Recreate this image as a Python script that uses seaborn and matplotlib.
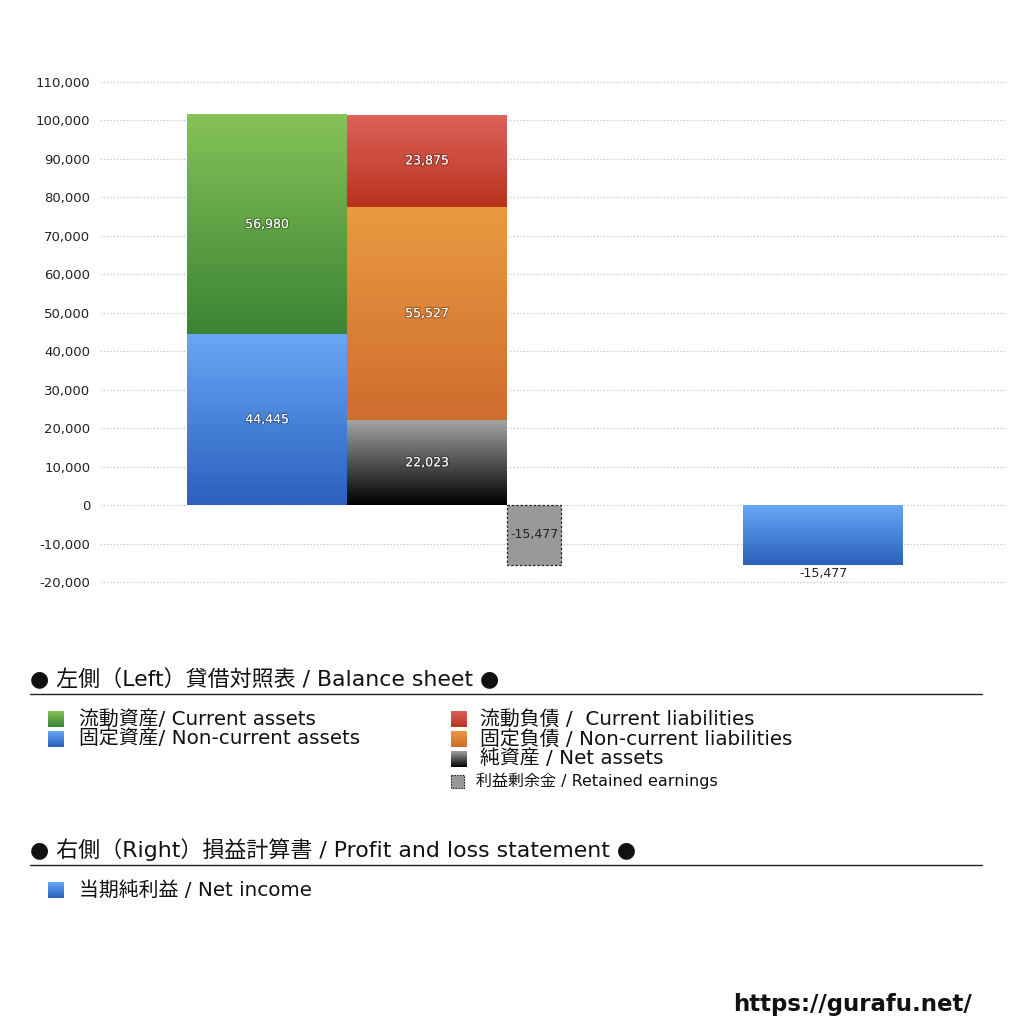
import numpy as np
import matplotlib
matplotlib.use("Agg")
import matplotlib.pyplot as plt
import matplotlib.patheffects as pe
from matplotlib.colors import LinearSegmentedColormap
from matplotlib.patches import Rectangle
import seaborn as sns

# --- Data ---
asset_labels = ["固定資産/ Non-current assets", "流動資産/ Current assets"]
asset_values = [44445, 56980]
liability_labels = ["純資産 / Net assets", "固定負債 / Non-current liabilities", "流動負債 /  Current liabilities"]
liability_values = [22023, 55527, 23875]
retained_label = "利益剰余金 / Retained earnings"
retained_value = -15477
income_label = "当期純利益 / Net income"
income_value = -15477
y_ticks = np.arange(-20000, 110001, 10000)

# gradient colours (top, bottom)
grad = {
    "green": ("#86c257", "#3b8434"),
    "blue": ("#67a7f6", "#2b60bc"),
    "red": ("#dc625a", "#b9331d"),
    "orange": ("#e99a40", "#cf6d2f"),
    "black": ("#a3a3a3", "#000000"),
}
asset_colors = ["blue", "green"]
liability_colors = ["black", "orange", "red"]

sns.set_theme(style="white")
plt.rcParams["font.family"] = ["DejaVu Sans", "Noto Sans CJK JP"]


def gradient_fill(ax, x0, x1, y0, y1, key, zorder=3, origin="upper"):
    top, bottom = grad[key]
    cmap = LinearSegmentedColormap.from_list(key, [top, bottom])
    img = np.linspace(0, 1, 256).reshape(-1, 1)
    ax.imshow(img, cmap=cmap, extent=(x0, x1, min(y0, y1), max(y0, y1)),
              origin=origin, aspect="auto", zorder=zorder, interpolation="bicubic")


fig = plt.figure(figsize=(10.24, 10.24), dpi=100)
ax = fig.add_axes([100 / 1024, 1 - 584 / 1024, 905 / 1024, 504 / 1024])

label_fx = [pe.withStroke(linewidth=1.6, foreground=(0, 0, 0, 0.3))]

# left side: assets stacked
bottom = 0
for val, key in zip(asset_values, asset_colors):
    ax.bar(0, val, bottom=bottom, width=1.0, color=grad[key][1], zorder=2)
    gradient_fill(ax, -0.5, 0.5, bottom, bottom + val, key)
    ax.text(0, bottom + val / 2, f"{val:,}", ha="center", va="center", color="white",
            fontsize=9, zorder=5, path_effects=label_fx)
    bottom += val

# liabilities + net assets stacked
bottom = 0
for val, key in zip(liability_values, liability_colors):
    ax.bar(1, val, bottom=bottom, width=1.0, color=grad[key][1], zorder=2)
    gradient_fill(ax, 0.5, 1.5, bottom, bottom + val, key)
    ax.text(1, bottom + val / 2, f"{val:,}", ha="center", va="center", color="white",
            fontsize=9, zorder=5, path_effects=label_fx)
    bottom += val

# retained earnings (dashed box)
ax.bar(1.5, retained_value, width=0.3375, align="edge", color="#999999",
       edgecolor="#222222", linestyle=(0, (2, 1.5)), linewidth=0.9, zorder=3)
ax.text(1.5 + 0.3375 / 2, retained_value / 2, f"{retained_value:,}", ha="center",
        va="center", color="#222222", fontsize=9, zorder=5)

# right side: net income
ax.bar(3.475, income_value, width=1.0, color=grad["blue"][1], zorder=2)
gradient_fill(ax, 2.975, 3.975, 0, income_value, "blue")
ax.text(3.475, income_value - 500, f"{income_value:,}", ha="center", va="top",
        color="#222222", fontsize=9, zorder=5)

ax.set_xlim(-1.044, 4.6125)
ax.set_ylim(-20500, 110500)
ax.set_yticks(y_ticks)
ax.set_yticklabels([f"{int(v):,}" for v in y_ticks], fontsize=9.5, color="#222222")
ax.set_xticks([])
ax.yaxis.grid(True, linestyle=(0, (1, 2)), color="#bbbbbb", linewidth=0.8)
ax.set_axisbelow(True)
ax.tick_params(axis="y", length=0, pad=7)
for s in ax.spines.values():
    s.set_visible(False)

# --- Legend area drawn in pixel coordinates ---
lg = fig.add_axes([0, 0, 1, 1], zorder=-1)
lg.set_xlim(0, 1024)
lg.set_ylim(1024, 0)
lg.axis("off")


def square(x, y, key, size=16):
    gradient_fill(lg, x, x + size, y - size / 2, y + size / 2, key, origin="lower")


def header(y, text):
    lg.text(30, y, text, fontsize=15.8, va="center", ha="left", color="#111111")
    lg.plot([30, 982], [y + 15, y + 15], color="#222222", linewidth=1)


header(679, "● 左側（Left）貸借対照表 / Balance sheet ●")
items_left = [(asset_labels[1], "green", 719), (asset_labels[0], "blue", 739)]
items_right = [(liability_labels[2], "red", 719), (liability_labels[1], "orange", 739),
               (liability_labels[0], "black", 759)]
for text, key, y in items_left:
    square(48, y, key)
    lg.text(79, y, text, fontsize=14.3, va="center", ha="left", color="#111111")
for text, key, y in items_right:
    square(451, y, key)
    lg.text(480, y, text, fontsize=14.3, va="center", ha="left", color="#111111")
lg.add_patch(Rectangle((451, 775), 13, 13, facecolor="#999999", edgecolor="#222222",
                       linestyle=(0, (1.5, 1)), linewidth=0.8))
lg.text(476, 781, retained_label, fontsize=11.5, va="center", ha="left", color="#111111")

header(850, "● 右側（Right）損益計算書 / Profit and loss statement ●")
square(48, 890, "blue")
lg.text(79, 890, income_label, fontsize=14.3, va="center", ha="left", color="#111111")

lg.text(972, 1004, "https://gurafu.net/", fontsize=16.5, fontweight="bold", ha="right",
        va="center", color="#111111")
lg.set_xlim(0, 1024)
lg.set_ylim(1024, 0)

ax.set_xlim(-1.044, 4.6125)
ax.set_ylim(-20500, 110500)

fig.savefig("out.png", dpi=100, facecolor="white")
